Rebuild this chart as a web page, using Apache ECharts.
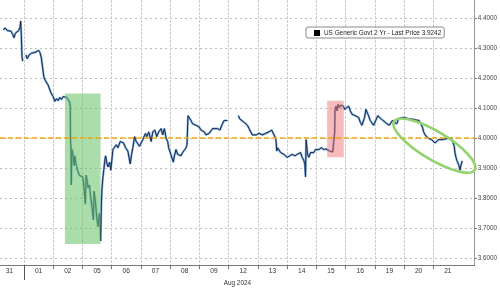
<!DOCTYPE html>
<html><head><meta charset="utf-8">
<script src="https://cdn.jsdelivr.net/npm/echarts@6/dist/echarts.min.js"></script>
<style>html,body{margin:0;padding:0;background:#fff}#c{width:500px;height:291px}</style>
</head><body><div id="c"></div><script>
// ---- data ----
const dayLabels = ['31','01','02','05','06','07','08','09','12','13','14','15','16','19','20','21'];
const monthLabel = 'Aug 2024';
const yTicks = [3.6,3.7,3.8,3.9,4.0,4.1,4.2,4.3,4.4];
const seriesName = 'US Generic Govt 2 Yr';
const refLevel = 4.0;
// time in trading-session units: session i spans [i, i+1]
const times = [
0.295,0.353,0.431,0.499,0.557,0.615,0.659,0.704,0.772,0.819,0.864,0.888,0.908,0.932,0.956,1.01,
1.068,1.112,1.181,1.262,1.317,1.375,1.433,1.501,1.545,1.589,1.637,1.681,1.726,1.773,1.828,1.886,1.944,1.998,
2.056,2.114,2.169,2.227,2.284,2.339,2.407,2.455,2.509,2.567,2.584,2.591,2.608,2.618,2.640,2.670,2.714,2.738,2.782,2.806,2.850,2.908,2.966,
3.010,3.054,3.102,3.123,3.157,3.191,3.239,3.283,3.327,3.375,3.395,3.443,3.487,3.532,3.579,3.600,3.623,3.647,3.668,3.702,3.736,3.770,3.794,3.838,3.872,3.930,3.971,
4.043,4.100,4.158,4.213,4.295,4.363,4.407,4.475,4.554,4.635,4.680,4.724,4.782,4.840,4.894,4.952,
5.065,5.157,5.201,5.269,5.351,5.405,5.474,5.542,5.610,5.692,5.746,5.804,5.862,5.916,5.950,
6.111,6.145,6.202,6.257,6.315,6.373,6.427,6.485,6.543,6.577,6.611,6.655,6.713,6.768,6.826,6.884,6.996,
7.054,7.167,7.225,7.337,7.450,7.508,7.620,7.702,7.790,7.848,7.906,7.961,8.15,
8.336,8.383,8.451,8.530,8.588,8.642,8.700,8.758,8.812,8.870,8.949,
9.041,9.153,9.269,9.382,9.474,9.552,9.610,9.630,9.644,9.678,9.722,9.780,9.835,9.893,9.951,
10.005,10.087,10.175,10.267,10.346,10.404,10.462,10.516,10.574,10.608,10.632,10.652,10.700,10.744,10.802,10.857,10.915,10.972,
11.085,11.177,11.255,11.334,11.402,11.450,11.518,11.562,11.630,11.641,11.675,11.709,11.743,11.790,11.835,11.879,11.927,11.971,
12.107,12.165,12.220,12.278,12.335,12.390,12.448,12.506,12.560,12.594,12.652,12.696,12.744,12.789,12.846,12.901,12.959,
13.105,13.153,13.221,13.289,13.358,13.426,13.494,13.562,13.606,13.675,13.753,13.811,13.868,13.923,
14.039,14.094,14.152,14.209,14.264,14.322,14.380,14.434,14.516,14.584,14.629,14.673,14.720,14.775,14.833,14.891,14.945,
15.061,15.116,15.174,15.232,15.286,15.344,15.402,15.456,15.514,15.572,15.627,15.685,15.719,15.743,15.777,15.811,15.855,15.879,15.913,15.947,15.968,15.992
];
const yields = [
4.361,4.368,4.359,4.365,4.357,4.346,4.335,4.350,4.346,4.359,4.370,4.391,4.348,4.273,4.257,null,
4.278,4.265,4.278,4.284,4.278,4.286,4.284,4.293,4.286,4.271,4.236,4.204,4.193,4.187,4.177,4.161,4.147,4.139,
4.123,4.132,4.125,4.136,4.129,4.139,4.145,4.136,4.129,4.118,4.107,3.997,3.968,3.844,3.962,3.950,3.909,3.941,3.914,3.904,3.887,3.875,3.871,
3.871,3.834,3.780,3.877,3.860,3.834,3.844,3.802,3.769,3.727,3.823,3.791,3.737,3.705,3.748,3.727,3.657,3.780,3.830,3.871,3.898,3.930,3.941,3.915,3.904,3.920,3.893,
3.962,3.968,3.978,3.968,3.989,3.995,3.984,3.968,3.957,3.914,3.946,3.968,4.005,3.989,3.995,3.973,
3.995,4.016,4.005,4.021,3.989,4.021,4.027,4.005,4.021,4.032,4.011,4.032,4.000,3.989,3.968,
3.920,3.941,3.962,3.946,3.952,3.941,3.952,3.946,3.968,3.978,4.075,4.069,4.059,4.048,4.053,4.043,4.037,
4.027,4.021,4.011,4.016,4.032,4.027,4.032,4.027,4.048,4.059,4.053,4.059,null,
4.075,4.064,4.069,4.053,4.059,4.043,4.032,4.021,4.011,4.016,4.011,
4.016,4.011,4.016,4.021,4.027,4.011,4.000,3.984,3.957,3.968,3.962,3.952,3.957,3.946,3.941,
3.936,3.941,3.946,3.941,3.946,3.941,3.952,3.936,3.925,3.914,3.871,3.995,3.946,3.936,3.952,3.957,3.952,3.962,
3.962,3.968,3.962,3.964,3.962,3.957,3.962,3.954,4.021,4.096,4.107,4.091,4.113,4.102,4.110,4.104,4.107,4.096,
4.107,4.091,4.080,4.086,4.075,4.080,4.069,4.053,4.043,4.048,4.069,4.096,4.091,4.075,4.059,4.053,4.043,
4.075,4.069,4.064,4.059,4.053,4.048,4.043,4.048,4.059,4.053,4.048,4.064,4.059,4.069,
4.069,4.075,4.064,4.069,4.064,4.064,4.061,4.064,4.059,4.053,4.037,4.021,4.011,4.005,4.000,3.995,3.995,
3.984,3.986,3.995,3.989,3.995,3.989,3.997,3.995,4.000,3.995,4.000,3.995,3.973,3.952,3.936,3.925,3.920,3.909,3.893,3.909,3.914,3.9242
];
// annotation regions (data coordinates)
const greenBox = {x0: 2.40, x1: 3.62, y0: 3.647, y1: 4.149};
const pinkBox = {x0: 11.37, x1: 11.94, y0: 3.936, y1: 4.125};
const ellipseCenter = [15.04, 3.975];

// ---- chart ----
const lastPrice = yields[yields.length - 1];
const seriesData = times.map((t, i) => [t, yields[i]]);
const dayCenters = dayLabels.map((d, i) => i + 0.5);
const dayBounds = dayLabels.slice(1).map((d, i) => i + 1);
const FONT = 'Liberation Sans, Arial, sans-serif';

const chart = echarts.init(document.getElementById('c'), null, {renderer: 'canvas'});
chart.setOption({
  animation: false,
  backgroundColor: '#fff',
  grid: {left: 0, right: 23.3, top: 0, bottom: 16, containLabel: false},
  legend: {
    left: 306, top: 27,
    padding: [3, 3, 2, 8],
    itemWidth: 6, itemHeight: 6, itemGap: 4,
    borderColor: '#8a8a8a', borderWidth: 1, borderRadius: 2,
    backgroundColor: '#fff',
    data: [{name: seriesName, icon: 'rect', itemStyle: {color: '#000'}}],
    formatter: () => seriesName + ' - Last Price ' + lastPrice.toFixed(4),
    textStyle: {fontSize: 6.4, fontFamily: FONT, color: '#222', padding: [0, 0, 0, -1]}
  },
  xAxis: [{
    type: 'value', min: 0.18, max: 16.42,
    name: monthLabel, nameLocation: 'middle', nameGap: 11,
    nameTextStyle: {fontSize: 6.4, fontFamily: FONT, color: '#333'},
    axisLine: {show: true, lineStyle: {color: '#777', width: 1}},
    axisTick: {show: true, customValues: dayBounds, length: 4, lineStyle: {color: '#777'}},
    axisLabel: {customValues: dayCenters, formatter: v => dayLabels[Math.floor(v)], fontSize: 6.6, fontFamily: FONT, color: '#333', margin: 3},
    splitLine: {show: true, lineStyle: {color: '#cfcfcf', width: 1, type: [3, 1]}}
  }, {
    type: 'value', min: 0.18, max: 16.42, position: 'bottom',
    axisLine: {show: false},
    axisTick: {show: true, customValues: [1], length: 15, lineStyle: {color: '#555'}},
    axisLabel: {show: false},
    splitLine: {show: false}
  }],
  yAxis: {
    type: 'value', position: 'right', min: 3.5765, max: 4.461,
    axisLine: {show: true, lineStyle: {color: '#999'}},
    axisTick: {show: true, customValues: yTicks, length: 2, lineStyle: {color: '#666'}},
    axisLabel: {customValues: yTicks, formatter: v => v.toFixed(4), fontSize: 6.3, fontFamily: FONT, color: '#444', margin: 3},
    splitLine: {show: true, lineStyle: {color: '#bdbdbd', width: 1, type: [2, 3]}}
  },
  series: [{
    name: 'glow', type: 'line', data: seriesData, showSymbol: false,
    connectNulls: false, z: 2, silent: true,
    lineStyle: {color: '#6e9fd2', width: 2.2, opacity: 0.85}
  }, {
    name: seriesName, type: 'line', data: seriesData, showSymbol: false,
    connectNulls: false, z: 3,
    lineStyle: {color: '#172c50', width: 1},
    itemStyle: {color: '#172c50'},
    markLine: {
      silent: true, symbol: 'none', z: 6,
      data: [
        {yAxis: refLevel, lineStyle: {color: '#f0a818', width: 1.5, type: [5, 3]}, label: {show: false}},
        {yAxis: lastPrice, lineStyle: {opacity: 0, width: 0},
          label: {show: true, position: 'end', distance: 0, formatter: lastPrice.toFixed(4),
            backgroundColor: '#000', color: '#fff', fontSize: 6.3, fontFamily: FONT, padding: [2, 2, 1, 2]}}
      ]
    }
  }, {
    name: 'areas', type: 'line', data: [], z: 5,
    markArea: {
      silent: true, z: 5,
      data: [
        [{xAxis: greenBox.x0, yAxis: greenBox.y0, itemStyle: {color: 'rgba(110,196,110,0.58)'}}, {xAxis: greenBox.x1, yAxis: greenBox.y1}],
        [{xAxis: pinkBox.x0, yAxis: pinkBox.y0, itemStyle: {color: 'rgba(240,120,120,0.5)'}}, {xAxis: pinkBox.x1, yAxis: pinkBox.y1}]
      ]
    }
  }]
});

const c = chart.convertToPixel({gridIndex: 0}, ellipseCenter);
chart.setOption({
  graphic: [{
    type: 'ellipse', x: c[0], y: c[1], rotation: -0.54, z: 100,
    shape: {cx: 0, cy: 0, rx: 47, ry: 14},
    style: {fill: 'none', stroke: '#92d36e', lineWidth: 2.6}
  }]
});
</script></body></html>
